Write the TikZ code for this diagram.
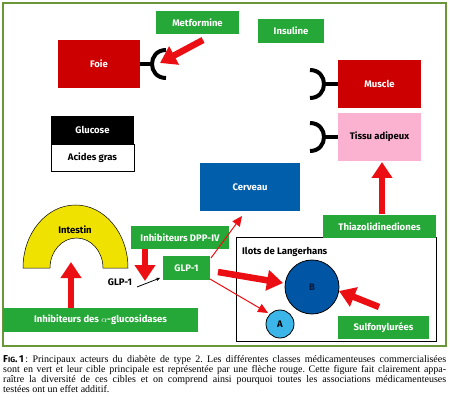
\documentclass[tikz,border=0pt]{standalone}
\usepackage{fontspec}
\setmainfont{Liberation Serif}
\setsansfont{Fira Sans}
\usetikzlibrary{arrows.meta}
\definecolor{gr}{RGB}{38,168,56}
\definecolor{rd}{RGB}{204,0,0}
\definecolor{ar}{RGB}{235,15,20}
\definecolor{pk}{RGB}{250,178,208}
\definecolor{bl}{RGB}{0,94,170}
\definecolor{bb}{RGB}{0,85,165}
\definecolor{lb}{RGB}{60,182,232}
\definecolor{ye}{RGB}{240,226,0}
\definecolor{fr}{RGB}{105,150,55}
\frenchspacing
\begin{document}
\begin{tikzpicture}[x=1pt,y=-1pt,
  lab/.style={font=\sffamily\bfseries\fontsize{9.5}{11}\selectfont},
  box/.style={lab,inner sep=0pt,text=white},
  gbox/.style={box,fill=gr},
  big/.style={draw=ar,line width=6.5pt,-{Triangle[length=16pt,width=20pt]}},
  thinarr/.style={draw=ar,line width=1pt,-{Triangle[length=10pt,width=9pt]}},
  rcp/.style={line width=4pt},
  capt/.style={anchor=base west,inner sep=0pt,font=\rmfamily\fontsize{10}{10}\selectfont}]
\useasboundingbox (0,0) rectangle (450,409);
\fill[white] (0,0) rectangle (450,409);
\draw[fr,line width=1.2pt] (3,3) rectangle (446,346);

% boxes
\node[gbox,minimum width=83pt,minimum height=23pt] (met) at (197.5,22.5) {Metformine};
\node[gbox,minimum width=66pt,minimum height=24pt] (ins) at (291,31) {Insuline};
\node[box,fill=rd,minimum width=82pt,minimum height=48pt] (foie) at (99,64) {Foie};
\node[box,fill=black,minimum width=83pt,minimum height=28pt] (glu) at (92.5,130) {Glucose};
\node[box,draw=black,line width=0.8pt,fill=white,text=black,minimum width=83pt,minimum height=27pt] (acg) at (92.5,157.5) {Acides gras};
\node[box,fill=rd,minimum width=83pt,minimum height=48pt] (mus) at (379.5,84) {Muscle};
\node[box,fill=pk,text=black,minimum width=83pt,minimum height=48pt] (tis) at (379.5,137) {Tissu adipeux};
\node[box,fill=bl,minimum width=100pt,minimum height=48pt] (cer) at (250,187) {Cerveau};
\node[draw=black,line width=0.8pt,minimum width=200pt,minimum height=104pt,inner sep=0pt] (ilots) at (336,289) {};
\node[lab,anchor=west,inner sep=0pt] (ill) at (242,252) {Ilots de Langerhans};
\node[gbox,minimum width=113pt,minimum height=23pt] (thz) at (379.5,226.5) {Thiazolidinediones};
\node[gbox,minimum width=91pt,minimum height=23pt] (sul) at (383.5,327.5) {Sulfonylurées};
\node[circle,draw=black,line width=0.8pt,fill=bb,minimum size=54pt,inner sep=0pt,lab,text={rgb,255:red,0;green,25;blue,60}] (B) at (312,287) {B};
\node[circle,draw=black,line width=0.8pt,fill=lb,minimum size=28pt,inner sep=0pt,lab] (A) at (280,324) {A};
\node[gbox,minimum width=195pt,minimum height=24pt] (agl) at (100.5,320) {Inhibiteurs des $\alpha$-glucosidases};
\node[gbox,minimum width=98pt,minimum height=23pt] (dpp) at (180,237.5) {Inhibiteurs DPP-IV};
\node[gbox,minimum width=47pt,minimum height=24pt] (glp) at (186.5,268) {GLP-1};
\node[lab,inner sep=0pt] (glpt) at (120,282) {GLP-1};

% intestin
\draw[fill=ye,line width=0.5pt] (23,268) arc[start angle=180,end angle=0,x radius=52.5pt,y radius=63pt]
  -- (103,268) arc[start angle=0,end angle=180,x radius=26.5pt,y radius=30pt] -- cycle;
\node[lab,inner sep=0pt] (int) at (75,230) {Intestin};

% receptors
\draw[rcp] (foie.east) -- (152,64);
\draw[rcp] (166,50) .. controls (147.3,50) and (147.3,78) .. (166,78);
\draw[rcp] (mus.west) -- (324,84);
\draw[rcp] (310,70) .. controls (328.7,70) and (328.7,98) .. (310,98);
\draw[rcp] (tis.west) -- (324,137);
\draw[rcp] (310,123) .. controls (328.7,123) and (328.7,151) .. (310,151);

% arrows
\coordinate (mt) at (203,40); \coordinate (mh) at (160,63);
\draw[big] (mt) -- (mh);
\coordinate (tt) at (382,214); \coordinate (th) at (382,162);
\draw[big] (tt) -- (th);
\coordinate (at) at (71,308); \coordinate (ah) at (71,262);
\draw[big] (at) -- (ah);
\coordinate (dt) at (145,249); \coordinate (dh) at (145,281);
\draw[big] (dt) -- (dh);
\coordinate (gt) at (218,272); \coordinate (gh) at (283,283);
\draw[big] (gt) -- (gh);
\coordinate (st) at (379,307); \coordinate (sh) at (339,291);
\draw[big] (st) -- (sh);
\coordinate (c1) at (211,258); \coordinate (c2) at (242,216);
\draw[thinarr] (c1) -- (c2);
\coordinate (a1) at (210,279); \coordinate (a2) at (268,313);
\draw[thinarr] (a1) -- (a2);
\coordinate (k1) at (137,287); \coordinate (k2) at (160,278);
\draw[line width=0.8pt,-{Stealth[length=4pt,width=3.5pt]}] (k1) -- (k2);

% caption
\node[capt] (l1) at (3,362) {\makebox[443pt][s]{{\sffamily\bfseries F{\fontsize{7.5}{8}\selectfont IG}.\,1}\,: Principaux acteurs du diabète de type 2. Les différentes classes médicamenteuses commercialisées}};
\node[capt] (l2) at (3,372) {\makebox[443pt][s]{sont en vert et leur cible principale est représentée par une flèche rouge. Cette figure fait clairement appa-}};
\node[capt] (l3) at (3,382) {\makebox[443pt][s]{raître la diversité de ces cibles et on comprend ainsi pourquoi toutes les associations médicamenteuses}};
\node[capt] (l4) at (3,392) {testées ont un effet additif.};
\end{tikzpicture}
\end{document}
